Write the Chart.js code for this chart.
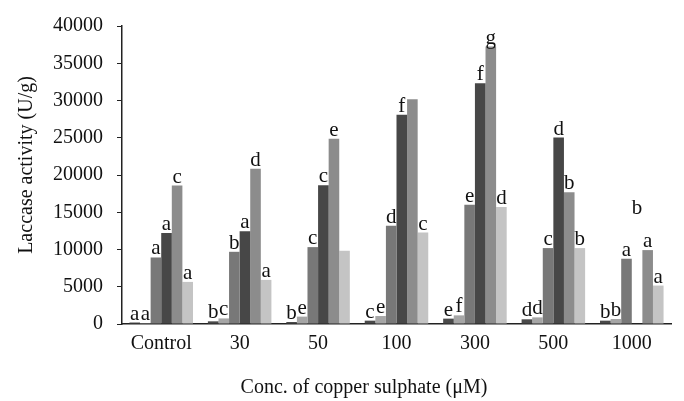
<!DOCTYPE html>
<html><head><meta charset="utf-8">
<script src="https://cdn.jsdelivr.net/npm/chart.js@4/dist/chart.umd.min.js"></script>
<style>html,body{margin:0;padding:0;background:#fff}#wrap{width:684px;height:401px}</style>
</head><body><div id="wrap"><canvas id="c" width="684" height="401"></canvas></div>
<script>
const categories = ['Control','30','50','100','300','500','1000'];
const s1 = [200, 360, 270, 450, 720, 630, 450];
const s2 = [120, 750, 990, 1070, 1160, 890, 670];
const s3 = [8930, 9690, 10320, 13200, 16000, 10190, 8760];
const s4 = [12230, 12450, 18630, 28090, 32320, 25030, null];
const s5 = [18580, 20850, 24850, 30180, 37250, 17690, 9920];
const s6 = [5650, 5920, 9830, 12270, 15690, 10190, 5160];
const l1 = ['a','b','b','c','e','d','b'];
const l2 = ['a','c','e','e','f','d','b'];
const l3 = ['a','b','c','d','e','c','a'];
const l4 = ['a','a','c','f','f','d','b'];
const l5 = ['c','d','e','','g','b','a'];
const l6 = ['a','a','','c','d','b','a'];
const floatingLabelValue = [null, null, null, null, null, null, 14400]; // series 4 labels with no bar
const yTicks = [0,5000,10000,15000,20000,25000,30000,35000,40000];
const colors = ['#4a4a4a','#a6a6a6','#787878','#474747','#8c8c8c','#c4c4c4'];
const series = [s1,s2,s3,s4,s5,s6];
const labels = [l1,l2,l3,l4,l5,l6];
const FONT = "'Liberation Serif', 'DejaVu Serif', serif";

const letterPlugin = {
  id: 'letters',
  afterDatasetsDraw(chart) {
    const ctx = chart.ctx;
    const y = chart.scales.y;
    ctx.save();
    ctx.font = '21px ' + FONT;
    ctx.fillStyle = '#111';
    ctx.textAlign = 'center';
    ctx.textBaseline = 'bottom';
    chart.data.datasets.forEach((ds, di) => {
      const meta = chart.getDatasetMeta(di);
      meta.data.forEach((el, i) => {
        const t = labels[di][i];
        if (!t) return;
        let v = ds.data[i];
        if (v === null && di === 3) v = floatingLabelValue[i];
        if (v === null || v === undefined) return;
        ctx.fillText(t, el.x, y.getPixelForValue(v) + 2);
      });
    });
    ctx.restore();
  }
};

new Chart(document.getElementById('c'), {
  type: 'bar',
  data: {
    labels: categories,
    datasets: series.map((d, i) => ({
      data: d, backgroundColor: colors[i], borderWidth: 0,
      categoryPercentage: 0.81, barPercentage: 1.0
    }))
  },
  options: {
    responsive: false, animation: false,
    layout: { padding: { top: 21, right: 13, left: 15, bottom: 1 } },
    plugins: { legend: { display: false }, tooltip: { enabled: false } },
    scales: {
      x: {
        grid: { display: false, drawTicks: false },
        border: { display: true, color: '#222', width: 1.5 },
        ticks: { color: '#111', font: { family: FONT, size: 20 }, padding: 8 },
        title: { display: true, text: 'Conc. of copper sulphate (μM)' + '\u00a0'.repeat(13), color: '#111',
                 font: { family: FONT, size: 20 }, padding: { top: 12, bottom: 0 } }
      },
      y: {
        min: 0, max: 40000,
        afterBuildTicks(axis) { axis.ticks = yTicks.map(v => ({ value: v })); },
        grid: { display: true, drawOnChartArea: false, drawTicks: true, tickLength: 5, color: '#222' },
        border: { display: true, color: '#222', width: 1.5 },
        ticks: { color: '#111', font: { family: FONT, size: 20 }, padding: 14,
                 callback: (v) => String(v) },
        title: { display: true, text: '\u00a0'.repeat(4) + 'Laccase activity (U/g)', color: '#111',
                 font: { family: FONT, size: 20 }, padding: { top: 0, bottom: 0 } }
      }
    }
  },
  plugins: [letterPlugin]
});
</script></body></html>
